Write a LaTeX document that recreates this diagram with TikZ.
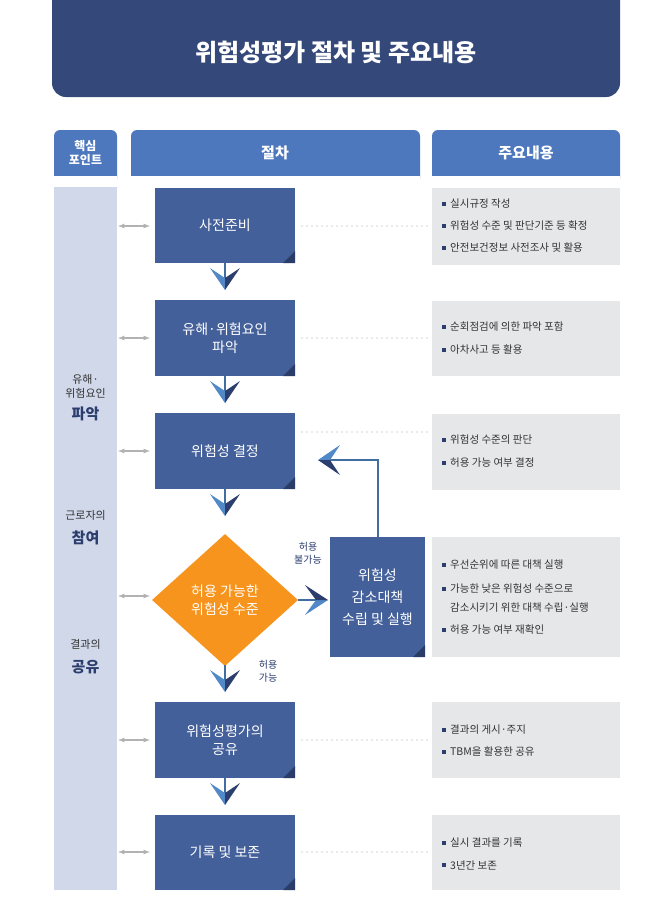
\documentclass[tikz,border=0pt]{standalone}
\usepackage{fontspec}
\setmainfont{Noto Sans CJK KR}
\usetikzlibrary{shapes.geometric}
\definecolor{navy}{HTML}{34497A}
\definecolor{boxb}{HTML}{44609A}
\definecolor{fold}{HTML}{2A3C68}
\definecolor{hdr}{HTML}{4E78BD}
\definecolor{lav}{HTML}{D0D8EA}
\definecolor{grayb}{HTML}{E6E7E8}
\definecolor{lightar}{HTML}{5188C8}
\definecolor{darkar}{HTML}{2C3E6E}
\definecolor{orng}{HTML}{F7941D}
\definecolor{txt}{HTML}{333333}
\tikzset{
 stepbox/.style={fill=boxb,text=white,font=\fontsize{14}{18}\selectfont,align=center,inner sep=0},
 infobox/.style={fill=grayb,anchor=north west,minimum width=188pt,inner sep=0},
 itemtxt/.style={anchor=west,text=txt,font=\fontsize{10.5}{13}\selectfont,inner sep=0},
 dots/.style={gray!70,line width=1.3pt,dash pattern=on 0pt off 5pt,line cap=round},
 garrow/.style={gray!60,line width=1.2pt,<->,>=latex},
 link/.style={lightar!80!black,line width=1.5pt},
 sidetxt/.style={text=txt,font=\fontsize{11}{14}\selectfont,align=center},
 sidebig/.style={text=darkar,font=\fontsize{15}{18}\selectfont\bfseries}
}
\newcommand{\mkbox}[5]{% name, x1,y1,x2,y2
 \fill[boxb] (#2,#3) rectangle (#4,#5);
 \fill[fold] (#4,#5-12) -- (#4,#5) -- (#4-12,#5) -- cycle;
 \coordinate (#1) at ({(#2+#4)/2},{(#3+#5)/2});
}
\newcommand{\downhead}[2]{% x, tip y
 \fill[lightar] (#1-15,#2-22) -- (#1,#2-12) -- (#1,#2) -- cycle;
 \fill[darkar] (#1+15,#2-22) -- (#1,#2-12) -- (#1,#2) -- cycle;
}
\newcommand{\bul}[3]{\fill[darkar] (#1-1.8,#2-1.8) rectangle (#1+1.8,#2+1.8); \node[itemtxt] at (#1+6,#2) {#3};}
\begin{document}
\begin{tikzpicture}[x=1pt,y=-1pt]
\useasboundingbox (0,0) rectangle (663,903);
\fill[white] (0,0) rectangle (663,903);
% title
\fill[navy,rounded corners=14pt] (52,-20) rectangle (620,97);
\node[text=white,font=\fontsize{24}{28}\selectfont\bfseries] (title) at (336,52) {위험성평가 절차 및 주요내용};
% headers
\fill[hdr,rounded corners=6pt] (54,130) rectangle (117,185);
\fill[hdr] (54,170) rectangle (117,176);
\fill[white] (54,176) rectangle (117,187);
\node[text=white,font=\fontsize{12}{14}\selectfont\bfseries,align=center] (h1) at (85.5,153) {핵심\\포인트};
\fill[hdr,rounded corners=6pt] (131,130) rectangle (420,185);
\fill[white] (131,176) rectangle (420,187);
\node[text=white,font=\fontsize{15}{18}\selectfont\bfseries] (h2) at (275,153) {절차};
\fill[hdr,rounded corners=6pt] (432,130) rectangle (620,185);
\fill[white] (432,176) rectangle (620,187);
\node[text=white,font=\fontsize{15}{18}\selectfont\bfseries] (h3) at (526,153) {주요내용};
% left column
\fill[lav] (54,187) rectangle (117,890);
\node[sidetxt] (s1) at (85.5,386) {유해·\\위험요인};
\node[sidebig] (s1b) at (85.5,414) {파악};
\node[sidetxt] (s2) at (85.5,515) {근로자의};
\node[sidebig] (s2b) at (85.5,538) {참여};
\node[sidetxt] (s3) at (85.5,644) {결과의};
\node[sidebig] (s3b) at (85.5,667) {공유};
% step boxes
\mkbox{b1}{155}{188}{295}{263}
\mkbox{b2}{155}{300}{295}{376}
\mkbox{b3}{155}{413}{295}{489}
\mkbox{b5}{155}{702}{295}{778}
\mkbox{b6}{155}{815}{295}{890}
\mkbox{r}{330}{537}{425}{657}
\node[stepbox] (t1) at (b1) {사전준비};
\node[stepbox] (t2) at (b2) {유해·위험요인\\파악};
\node[stepbox] (t3) at (b3) {위험성 결정};
\node[stepbox] (t5) at (b5) {위험성평가의\\공유};
\node[stepbox] (t6) at (b6) {기록 및 보존};
\node[stepbox,font=\fontsize{14}{22}\selectfont] (tr) at (r) {위험성\\감소대책\\수립 및 실행};
% diamond
\node[diamond,fill=orng,minimum width=146pt,minimum height=132pt,inner sep=0] (d) at (225,600) {};
\node[text=white,font=\fontsize{14}{18}\selectfont,align=center] (dt) at (d) {허용 가능한\\위험성 수준};
% down connectors
\foreach \y/\t in {263/290,376/403,489/516,665/692,778/805}{
 \draw[link] (225,\y) -- (225,\t-12);
 \downhead{225}{\t}
}
% right arrow
\draw[link] (d.east) -- (318,600);
\fill[lightar] (305,615) -- (316,600) -- (328,600) -- cycle;
\fill[darkar] (305,585) -- (316,600) -- (328,600) -- cycle;
% feedback
\draw[link] (378,537) -- (378,460) -- (330,460);
\fill[lightar] (340,445) -- (330,460) -- (318,460) -- cycle;
\fill[darkar] (340,475) -- (330,460) -- (318,460) -- cycle;
\node[text=darkar,font=\fontsize{10}{13}\selectfont,align=center] (l1) at (308,553) {허용\\불가능};
\node[text=darkar,font=\fontsize{10}{13}\selectfont,align=center] (l2) at (268,671) {허용\\가능};
% left arrows
\foreach \y in {226,338,451,596,740,852}{\draw[garrow] (118,\y) -- (150,\y);}
% dots
\foreach \y in {226,338,432,740,852}{\draw[dots] (302,\y) -- (428,\y);}
% info boxes
\node[infobox,minimum height=77pt] (i1) at (432,188) {};
\node[infobox,minimum height=75pt] (i2) at (432,301) {};
\node[infobox,minimum height=76pt] (i3) at (432,414) {};
\node[infobox,minimum height=120pt] (i4) at (432,537) {};
\node[infobox,minimum height=76pt] (i5) at (432,702) {};
\node[infobox,minimum height=75pt] (i6) at (432,815) {};
\bul{444}{204}{실시규정 작성}
\bul{444}{226}{위험성 수준 및 판단기준 등 확정}
\bul{444}{248}{안전보건정보 사전조사 및 활용}
\bul{444}{327}{순회점검에 의한 파악 포함}
\bul{444}{350}{아차사고 등 활용}
\bul{444}{440}{위험성 수준의 판단}
\bul{444}{463}{허용 가능 여부 결정}
\bul{444}{565}{우선순위에 따른 대책 실행}
\bul{444}{589}{가능한 낮은 위험성 수준으로}
\node[itemtxt] (i4c) at (450,608) {감소시키기 위한 대책 수립·실행};
\bul{444}{630}{허용 가능 여부 재확인}
\bul{444}{730}{결과의 게시·주지}
\bul{444}{752}{TBM을 활용한 공유}
\bul{444}{843}{실시 결과를 기록}
\bul{444}{865}{3년간 보존}
\end{tikzpicture}
\end{document}
